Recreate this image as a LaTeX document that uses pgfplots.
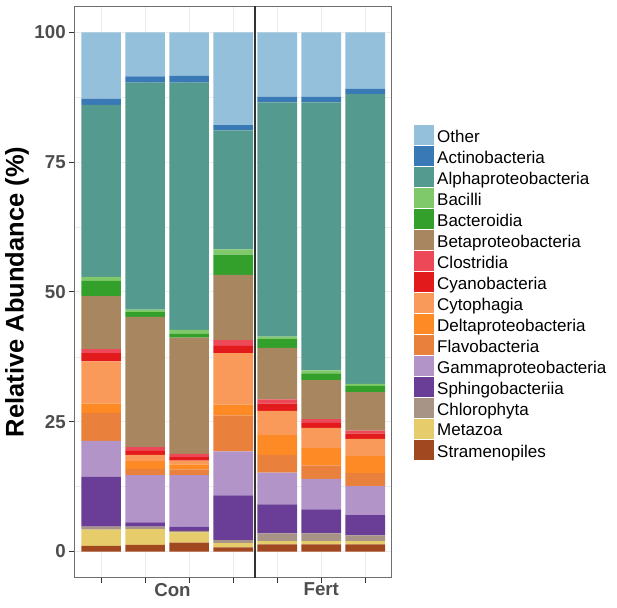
\documentclass[border=0pt]{standalone}
\usepackage{pgfplots}
\usepackage{pgfplotstable}
\pgfplotsset{compat=1.18}
\usepackage{fontspec}
\setmainfont{Liberation Sans}
\definecolor{cOth}{HTML}{95C0DC}
\definecolor{cAct}{HTML}{3979B5}
\definecolor{cAlp}{HTML}{559A8E}
\definecolor{cBcl}{HTML}{80C96A}
\definecolor{cBac}{HTML}{33A02C}
\definecolor{cBet}{HTML}{A88760}
\definecolor{cClo}{HTML}{EC4857}
\definecolor{cCya}{HTML}{E31A1C}
\definecolor{cCyt}{HTML}{F9995A}
\definecolor{cDel}{HTML}{FE8A25}
\definecolor{cFla}{HTML}{E9803B}
\definecolor{cGam}{HTML}{B394C8}
\definecolor{cSph}{HTML}{6A3D96}
\definecolor{cChl}{HTML}{A89387}
\definecolor{cMet}{HTML}{E6CC6B}
\definecolor{cStr}{HTML}{A24820}
\definecolor{gridgrey}{HTML}{EBEBEB}
\definecolor{bordergrey}{HTML}{6E6E6E}
\definecolor{tickgrey}{HTML}{333333}
\definecolor{labgrey}{HTML}{4D4D4D}
\pgfplotstableread{
x Str Met Chl Sph Gam Fla Del Cyt Cya Clo Bet Bac Bcl Alp Act Oth
1 1.1 3.1 0.6 9.6 6.9 5.4 1.8 8.1 1.6 0.8 10.2 2.9 0.8 33.1 1.2 12.8
2 1.3 3.0 0.5 0.8 9.1 1.2 1.5 1.2 0.8 0.7 25.1 0.9 0.5 43.7 1.2 8.5
3 1.7 2.0 0.3 0.8 9.9 1.1 1.0 0.7 0.7 0.6 22.4 0.7 0.8 47.6 1.3 8.4
4 0.8 0.8 0.6 8.6 8.5 6.9 2.1 9.9 1.4 1.1 12.6 3.9 1.0 22.9 1.0 17.9
5 1.4 0.6 1.5 5.6 6.1 3.4 3.8 4.7 1.4 0.8 9.9 1.7 0.5 45.1 1.1 12.4
6 1.4 0.6 1.5 4.6 5.9 2.6 3.3 3.9 1.0 0.7 7.5 1.3 0.6 51.6 1.1 12.4
7 1.4 0.6 1.1 3.9 5.6 2.5 3.3 3.3 1.0 0.6 7.4 1.2 0.4 55.8 1.0 10.9
}\data
\begin{document}
\begin{tikzpicture}
\begin{axis}[
  name=ax,
  scale only axis, width=317pt, height=571.2pt,
  xmin=0.4, xmax=7.6, ymin=-5, ymax=105,
  ybar stacked, bar width=0.9,
  xtick={1,...,7}, xticklabels={},
  ytick={0,25,50,75,100}, minor ytick={12.5,37.5,62.5,87.5},
  extra x ticks={2.62,6}, extra x tick labels={Con,Fert},
  extra x tick style={grid=none, major tick length=0pt, tick label style={yshift=-2pt}},
  grid=both,
  major grid style={color=gridgrey, line width=1pt},
  minor grid style={color=gridgrey, line width=0.5pt},
  axis line style={color=bordergrey, line width=0.8pt},
  tick align=outside, major tick length=5.5pt, minor tick length=0pt,
  tick style={color=tickgrey, line width=0.9pt},
  tick pos=left,
  /pgf/number format/assume math mode=true,
  ticklabel style={font=\bfseries\fontsize{18.7}{20}\selectfont, color=labgrey},
  ylabel={Relative Abundance (\%)},
  ylabel style={font=\bfseries\fontsize{25.5}{28}\selectfont, at={(axis description cs:0,0.5)}, anchor=center, yshift=57.7pt},
  reverse legend,
  legend image code/.code={\fill[#1] (0pt,-8.3pt) rectangle (19.3pt,11.7pt);},
  legend style={at={(1,1)}, anchor=north west, xshift=22.3pt, yshift=-118.7pt,
    draw=none, fill=none, inner sep=0pt, row sep=1.0pt,
    font=\fontsize{17}{19}\selectfont,
    nodes={inner xsep=3.7pt, inner ysep=0pt}},
  legend cell align=left,
]
\addplot[fill=cStr, draw=none] table[x=x, y=Str] {\data};
\addplot[fill=cMet, draw=none] table[x=x, y=Met] {\data};
\addplot[fill=cChl, draw=none] table[x=x, y=Chl] {\data};
\addplot[fill=cSph, draw=none] table[x=x, y=Sph] {\data};
\addplot[fill=cGam, draw=none] table[x=x, y=Gam] {\data};
\addplot[fill=cFla, draw=none] table[x=x, y=Fla] {\data};
\addplot[fill=cDel, draw=none] table[x=x, y=Del] {\data};
\addplot[fill=cCyt, draw=none] table[x=x, y=Cyt] {\data};
\addplot[fill=cCya, draw=none] table[x=x, y=Cya] {\data};
\addplot[fill=cClo, draw=none] table[x=x, y=Clo] {\data};
\addplot[fill=cBet, draw=none] table[x=x, y=Bet] {\data};
\addplot[fill=cBac, draw=none] table[x=x, y=Bac] {\data};
\addplot[fill=cBcl, draw=none] table[x=x, y=Bcl] {\data};
\addplot[fill=cAlp, draw=none] table[x=x, y=Alp] {\data};
\addplot[fill=cAct, draw=none] table[x=x, y=Act] {\data};
\addplot[fill=cOth, draw=none] table[x=x, y=Oth] {\data};
\legend{Stramenopiles,Metazoa,Chlorophyta,Sphingobacteriia,Gammaproteobacteria,Flavobacteria,Deltaproteobacteria,Cytophagia,Cyanobacteria,Clostridia,Betaproteobacteria,Bacteroidia,Bacilli,Alphaproteobacteria,Actinobacteria,Other}
\draw[color=tickgrey, line width=1.6pt] (axis cs:4.5,-5) -- (axis cs:4.5,105);
\end{axis}
\pgfresetboundingbox
\path ([xshift=-74.7pt,yshift=-29.5pt]ax.south west) rectangle ([xshift=542.3pt,yshift=577.5pt]ax.south west);
\end{tikzpicture}
\end{document}
